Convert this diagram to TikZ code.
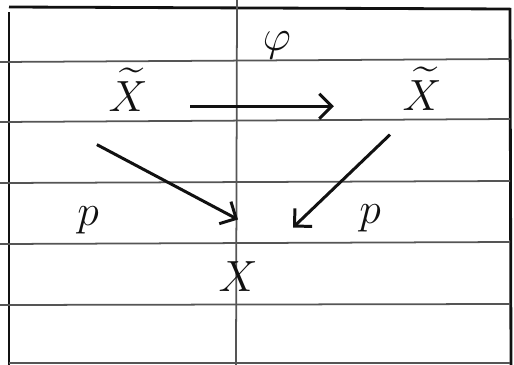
\documentclass[tikz,border=0pt]{standalone}
\usepackage{amsmath}
\usetikzlibrary{arrows.meta}
\definecolor{ink}{HTML}{111111}
\definecolor{ruling}{HTML}{555555}

\begin{document}
\begin{tikzpicture}[
  x=0.02cm,y=-0.02cm,
  every node/.style={font=\fontsize{32}{38}\selectfont,text=ink},
  obj/.style={anchor=base,inner sep=3pt,font=\fontsize{37}{44}\selectfont},
  lbl/.style={anchor=center,inner sep=1pt},
  arr/.style={-{Straight Barb[length=2.5mm,width=5mm]},line width=1.7pt,draw=ink},
  paper/.style={line width=1pt,draw=ruling},
  edge/.style={line width=1.6pt,draw=ink}
]
\useasboundingbox (0,0) rectangle (514,365);

% Lined paper
\draw[edge] (9,7) -- (510,9);
\draw[edge] (9,12) -- (9,365);
\draw[edge] (510,8) -- (511,365);
\draw[paper] (9,363) -- (510,363);
\foreach \yl/\yr in {62/59,122/119,183/181,244/242,305/304}
  \draw[paper] (0,\yl) -- (510,\yr);
\draw[paper] (237,0) -- (236,365);

% Objects
\node[obj] (XL) at (128,111) {$\widetilde{X}$};
\node[obj] (XR) at (422,110) {$\widetilde{X}$};
\node[obj] (XB) at (238,291) {$X$};

% Labels
\node[lbl] (phi) at (277,45) {$\varphi$};
\node[lbl] (pl) at (88,220) {$p$};
\node[lbl] (pr) at (370,218) {$p$};

% Arrows
\draw[arr] ([shift={(37,-1)}]XL.mid east) -- ([shift={(-63,0)}]XR.mid west);
\draw[arr] ([shift={(-6,28)}]XL.south west) -- ([shift={(0,-36)}]XB.north);
\draw[arr] ([shift={(-32,19)}]XR.south) -- ([shift={(55,-28)}]XB.north);

\end{tikzpicture}
\end{document}
